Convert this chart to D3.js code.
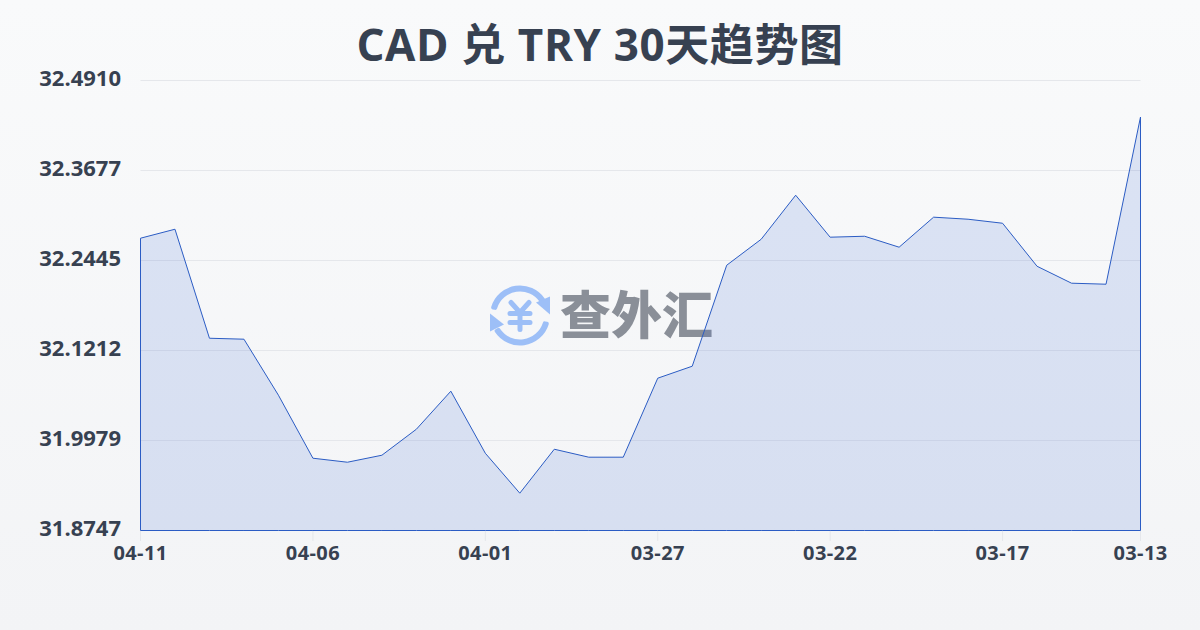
<!DOCTYPE html>
<html><head><meta charset="utf-8">
<script src="https://cdn.jsdelivr.net/npm/d3@7"></script>
<style>html,body{margin:0;padding:0;background:#f3f4f6}svg{display:block}</style></head>
<body><svg id="c" width="1200" height="630"></svg>
<script>
const titleText = "CAD 兑 TRY 30天趋势图";
const dates = ["04-11","04-10","04-09","04-08","04-07","04-06","04-05","04-04","04-03","04-02","04-01","03-31","03-30","03-29","03-28","03-27","03-26","03-25","03-24","03-23","03-22","03-21","03-20","03-19","03-18","03-17","03-16","03-15","03-14","03-13"];
const rates = [32.2750,32.2873,32.1380,32.1367,32.0600,31.9737,31.9682,31.9778,32.0134,32.0655,31.9805,31.9258,31.9860,31.9751,31.9751,32.0833,32.0997,32.2380,32.2736,32.3339,32.2764,32.2777,32.2627,32.3038,32.3010,32.2955,32.2366,32.2134,32.2120,32.4410];
const yTicks = [31.8747,31.9979,32.1212,32.2445,32.3677,32.4910];
const xTickLabels = ["04-11","04-06","04-01","03-27","03-22","03-17","03-13"];
const yDomain = [31.8747,32.4910];

const svg = d3.select("#c");
const defs = svg.append("defs");
const bg = defs.append("linearGradient").attr("id","bg").attr("x1",0).attr("y1",0).attr("x2",0).attr("y2",1);
bg.append("stop").attr("offset",0).attr("stop-color","#f9fafb");
bg.append("stop").attr("offset",1).attr("stop-color","#f3f4f6");
svg.append("rect").attr("width",1200).attr("height",630).attr("fill","url(#bg)");

const x = d3.scalePoint().domain(dates).range([140.5,1140.5]);
const y = d3.scaleLinear().domain(yDomain).range([530.5,80.5]);
const FONT = "'Open Sans','Noto Sans CJK SC',sans-serif";

svg.append("text").attr("x",600).attr("y",61).attr("text-anchor","middle").attr("letter-spacing",0.6)
  .attr("font-family",FONT).attr("font-weight",700).attr("font-size",44).attr("fill","#374151").text(titleText);

// watermark
const wm = svg.append("g");
const blue = "#9dbff7";
const cx=520, cy=315.5, r=27;
const arc = d3.arc().innerRadius(r-3).outerRadius(r+3).cornerRadius(2);
wm.append("path").attr("transform",`translate(${cx},${cy})`).attr("fill",blue).attr("d",arc({startAngle:-1.35,endAngle:1.05}));
wm.append("path").attr("transform",`translate(${cx},${cy})`).attr("fill",blue).attr("d",arc({startAngle:1.8,endAngle:4.2}));
wm.append("path").attr("fill",blue).attr("d",`M${cx+30},${cy-1}L${cx+16},${cy-13}L${cx+30},${cy-19}Z`);
wm.append("path").attr("fill",blue).attr("d",`M${cx-30},${cy-2}L${cx-16},${cy+9}L${cx-30},${cy+16}Z`);
wm.append("path").attr("stroke",blue).attr("stroke-width",5).attr("fill","none").attr("stroke-linecap","round").attr("stroke-linejoin","round")
  .attr("d",`M${cx-9},${cy-13}L${cx},${cy-3}L${cx+9},${cy-13}M${cx-10},${cy-2}H${cx+10}M${cx-10},${cy+7}H${cx+10}M${cx},${cy-3}V${cy+14}`);
wm.append("text").attr("x",560).attr("y",334).attr("font-family","'Noto Sans CJK SC'").attr("font-weight",900).attr("font-size",51).attr("fill","#8a8f98").text("查外汇");

// grid
svg.append("g").selectAll("line").data(yTicks).join("line")
  .attr("x1",140.5).attr("x2",1140.5).attr("y1",d=>Math.floor(y(d))+.5).attr("y2",d=>Math.floor(y(d))+.5)
  .attr("stroke","#e5e7eb").attr("stroke-width",1);

// area + line
const pts = rates.map((v,i)=>[dates[i],v]);
const area = d3.area().x(d=>x(d[0])).y0(y(yDomain[0])).y1(d=>y(d[1]));
svg.append("path").attr("d",area(pts)).attr("fill","#3563d0").attr("fill-opacity",.15)
  .attr("stroke","#2b5cc4").attr("stroke-width",1);

// x ticks
svg.append("g").selectAll("line").data(xTickLabels).join("line")
  .attr("x1",d=>x(d)).attr("x2",d=>x(d)).attr("y1",531).attr("y2",541).attr("stroke","#e5e7eb");
svg.append("g").selectAll("text").data(xTickLabels).join("text")
  .attr("x",d=>x(d)).attr("y",560).attr("text-anchor","middle").attr("font-family",FONT).attr("font-weight",700).attr("font-size",20).attr("letter-spacing",0.4).attr("fill","#374151").text(d=>d);
// y labels
svg.append("g").selectAll("text").data(yTicks).join("text")
  .attr("x",121).attr("y",d=>y(d)+5.5).attr("text-anchor","end").attr("font-family",FONT).attr("font-weight",700).attr("font-size",22).attr("fill","#374151").text(d=>d.toFixed(4));
</script></body></html>
